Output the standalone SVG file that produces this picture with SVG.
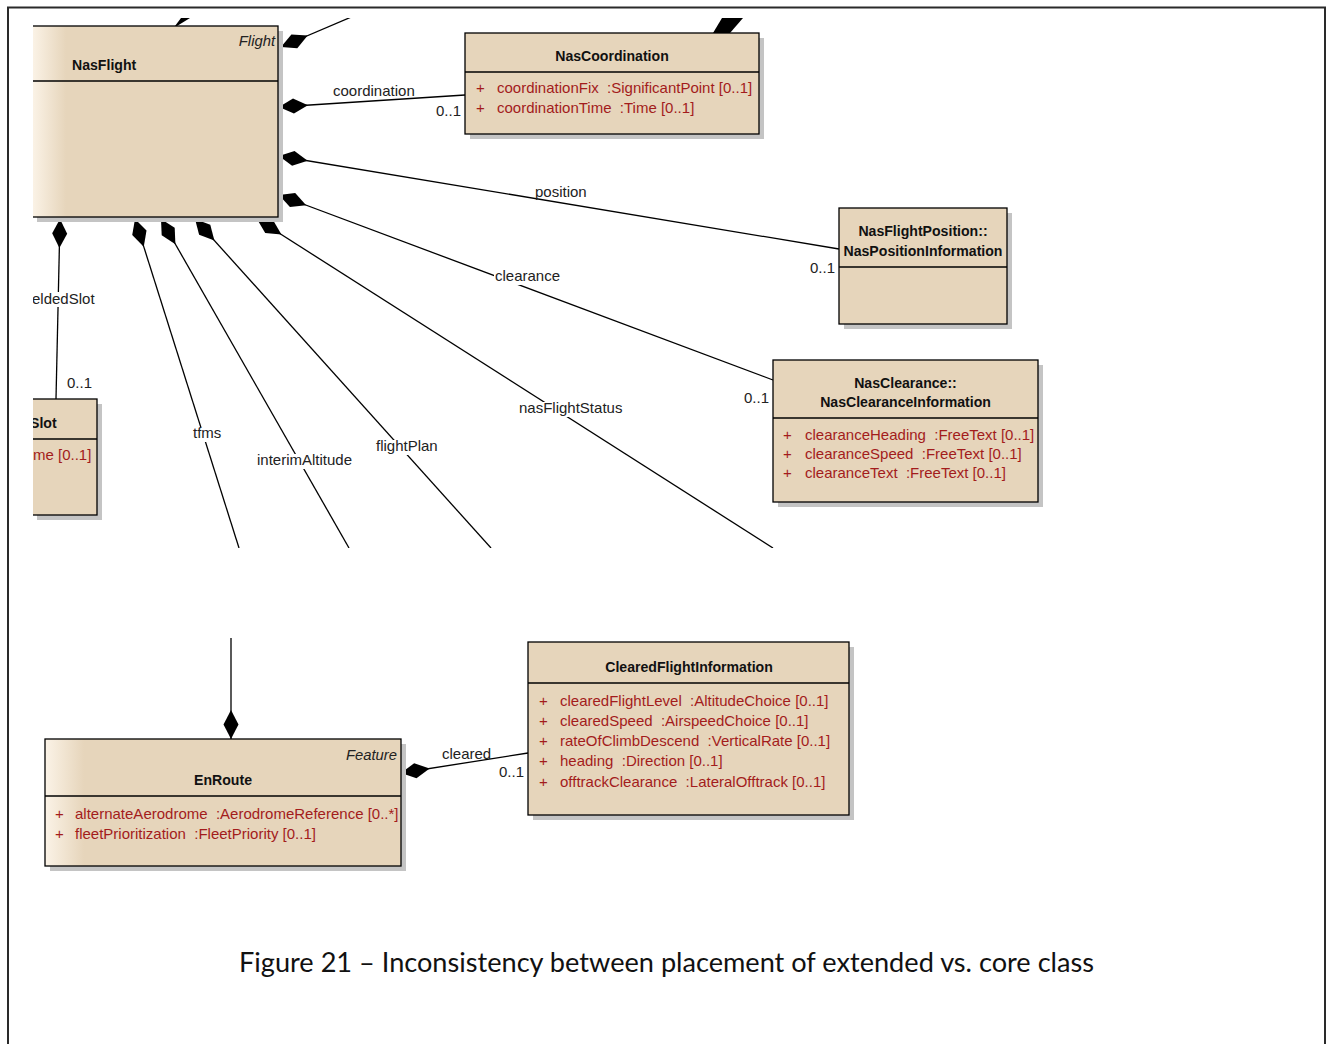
<svg xmlns="http://www.w3.org/2000/svg" width="1332" height="1044" viewBox="0 0 1332 1044">
  <style>
    .box { fill: #E6D5BB; stroke: #000; stroke-width: 1.3; }
    .shadow { fill: #C4C4C4; }
    .div { stroke: #000; stroke-width: 1.3; }
    .title { font: bold 14.1px "Liberation Sans", Arial, sans-serif; fill: #111; }
    .stereo { font: italic 14.8px "Liberation Sans", Arial, sans-serif; fill: #222; }
    .attr { font: 15px "Liberation Sans", Arial, sans-serif; fill: #A31C1C; white-space: pre; }
    .lbl { font: 15px "Liberation Sans", Arial, sans-serif; fill: #222; }
    .conn { stroke: #000; stroke-width: 1.3; fill: none; marker-start: url(#comp); }
    .bg { fill: #fff; }
    .caption { font: 27px Lato, "Liberation Sans", sans-serif; fill: #111; }
  </style>
  <defs>
    <!-- filled diamond for composition ends, drawn along the path from the owning box -->
    <marker id="comp" markerUnits="userSpaceOnUse" orient="auto" refX="0" refY="0" markerWidth="30" markerHeight="16" viewBox="0 -8 30 16" overflow="visible">
      <path d="M0,0 L14.5,-7.5 L29,0 L14.5,7.5 Z" fill="#000"/>
    </marker>
    <linearGradient id="gradFlight" gradientUnits="userSpaceOnUse" x1="32" y1="0" x2="66" y2="0">
      <stop offset="0" stop-color="#FBF3E7"/>
      <stop offset="1" stop-color="#E6D5BB"/>
    </linearGradient>
    <linearGradient id="gradEnRoute" gradientUnits="userSpaceOnUse" x1="45" y1="0" x2="84" y2="0">
      <stop offset="0" stop-color="#FBF3E7"/>
      <stop offset="1" stop-color="#E6D5BB"/>
    </linearGradient>
    <clipPath id="upperView">
      <rect x="33" y="18" width="1292" height="530"/>
    </clipPath>
  </defs>

  <rect width="1332" height="1044" fill="#fff"/>

  <!-- page frame -->
  <path d="M8,1044 V7.5 H1325 V1044" fill="none" stroke="#2a2a2a" stroke-width="2"/>

  <!-- upper part of the class diagram -->
  <g clip-path="url(#upperView)">
    <g id="connectors">
      <polygon points="181,18 190,18 177,26 175,26" fill="#000"/>
      <polygon points="722,18 743,18 730,33 713,33" fill="#000"/>
      <path class="conn" d="M281,47 L356,15"/>
      <path class="conn" d="M279,107 L465,95"/>
      <path class="conn" d="M279,156 L839,249"/>
      <path class="conn" d="M279,195 L773,380"/>
      <path class="conn" d="M257,219 L773,548"/>
      <path class="conn" d="M195,219 L491,548"/>
      <path class="conn" d="M161,219 L349,548"/>
      <path class="conn" d="M135,219 L239,548"/>
      <path class="conn" d="M60,219 L56,399"/>

      <rect class="bg" x="32" y="292" width="66" height="15"/>
      <rect class="bg" x="192" y="427" width="31" height="15"/>
      <rect class="bg" x="256" y="454" width="99" height="15"/>
      <rect class="bg" x="375" y="440" width="66" height="15"/>
      <rect class="bg" x="518" y="402" width="104" height="15"/>
      <rect class="bg" x="494" y="270" width="66" height="15"/>

      <text class="lbl" x="333" y="96">coordination</text>
      <text class="lbl" x="436" y="116">0..1</text>
      <text class="lbl" x="535" y="197">position</text>
      <text class="lbl" x="810" y="273">0..1</text>
      <text class="lbl" x="495" y="281">clearance</text>
      <text class="lbl" x="744" y="403">0..1</text>
      <text class="lbl" x="519" y="413">nasFlightStatus</text>
      <text class="lbl" x="376" y="451">flightPlan</text>
      <text class="lbl" x="257" y="465">interimAltitude</text>
      <text class="lbl" x="193" y="438">tfms</text>
      <text class="lbl" x="32" y="304">eldedSlot</text>
      <text class="lbl" x="67" y="388">0..1</text>
    </g>

    <g id="NasFlight">
      <rect class="shadow" x="37" y="31" width="246" height="191"/>
      <rect class="box" x="32" y="26" width="246" height="191" style="fill:url(#gradFlight)"/>
      <line class="div" x1="32" y1="81" x2="278" y2="81"/>
      <text class="stereo" x="275" y="46" text-anchor="end">Flight</text>
      <text class="title" x="72" y="70">NasFlight</text>
    </g>

    <g id="NasCoordination">
      <rect class="shadow" x="470" y="38" width="294" height="101"/>
      <rect class="box" x="465" y="33" width="294" height="101"/>
      <line class="div" x1="465" y1="72" x2="759" y2="72"/>
      <text class="title" x="612" y="61" text-anchor="middle">NasCoordination</text>
      <text class="attr" y="93"><tspan x="476">+</tspan><tspan x="497">coordinationFix  :SignificantPoint [0..1]</tspan></text>
      <text class="attr" y="113"><tspan x="476">+</tspan><tspan x="497">coordinationTime  :Time [0..1]</tspan></text>
    </g>

    <g id="NasPositionInformation">
      <rect class="shadow" x="844" y="213" width="168" height="116"/>
      <rect class="box" x="839" y="208" width="168" height="116"/>
      <line class="div" x1="839" y1="267" x2="1007" y2="267"/>
      <text class="title" x="923" y="236" text-anchor="middle">NasFlightPosition::</text>
      <text class="title" x="923" y="256" text-anchor="middle">NasPositionInformation</text>
    </g>

    <g id="NasClearanceInformation">
      <rect class="shadow" x="778" y="365" width="265" height="142"/>
      <rect class="box" x="773" y="360" width="265" height="142"/>
      <line class="div" x1="773" y1="418" x2="1038" y2="418"/>
      <text class="title" x="905.5" y="388" text-anchor="middle">NasClearance::</text>
      <text class="title" x="905.5" y="407" text-anchor="middle">NasClearanceInformation</text>
      <text class="attr" y="440"><tspan x="783">+</tspan><tspan x="805">clearanceHeading  :FreeText [0..1]</tspan></text>
      <text class="attr" y="459"><tspan x="783">+</tspan><tspan x="805">clearanceSpeed  :FreeText [0..1]</tspan></text>
      <text class="attr" y="478"><tspan x="783">+</tspan><tspan x="805">clearanceText  :FreeText [0..1]</tspan></text>
    </g>

    <g id="Slot">
      <rect class="shadow" x="37" y="404" width="65" height="116"/>
      <rect class="box" x="20" y="399" width="77" height="116"/>
      <line class="div" x1="20" y1="439" x2="97" y2="439"/>
      <text class="title" x="30" y="428">Slot</text>
      <text class="attr" x="33" y="460">me [0..1]</text>
    </g>
  </g>

  <!-- lower part of the class diagram -->
  <g id="lowerConnectors">
    <path class="conn" d="M231,739 L231,638"/>
    <path class="conn" d="M401,773 L528,753"/>
    <text class="lbl" x="442" y="759">cleared</text>
    <text class="lbl" x="499" y="777">0..1</text>
  </g>

  <g id="EnRoute">
    <rect class="shadow" x="50" y="744" width="356" height="127"/>
    <rect class="box" x="45" y="739" width="356" height="127" style="fill:url(#gradEnRoute)"/>
    <line class="div" x1="45" y1="796" x2="401" y2="796"/>
    <text class="stereo" x="397" y="760" text-anchor="end">Feature</text>
    <text class="title" x="223" y="785" text-anchor="middle">EnRoute</text>
    <text class="attr" y="819"><tspan x="55">+</tspan><tspan x="75">alternateAerodrome  :AerodromeReference [0..*]</tspan></text>
    <text class="attr" y="839"><tspan x="55">+</tspan><tspan x="75">fleetPrioritization  :FleetPriority [0..1]</tspan></text>
  </g>

  <g id="ClearedFlightInformation">
    <rect class="shadow" x="533" y="647" width="321" height="173"/>
    <rect class="box" x="528" y="642" width="321" height="173"/>
    <line class="div" x1="528" y1="683" x2="849" y2="683"/>
    <text class="title" x="689" y="672" text-anchor="middle">ClearedFlightInformation</text>
    <text class="attr" y="706"><tspan x="539">+</tspan><tspan x="560">clearedFlightLevel  :AltitudeChoice [0..1]</tspan></text>
    <text class="attr" y="726"><tspan x="539">+</tspan><tspan x="560">clearedSpeed  :AirspeedChoice [0..1]</tspan></text>
    <text class="attr" y="746"><tspan x="539">+</tspan><tspan x="560">rateOfClimbDescend  :VerticalRate [0..1]</tspan></text>
    <text class="attr" y="766"><tspan x="539">+</tspan><tspan x="560">heading  :Direction [0..1]</tspan></text>
    <text class="attr" y="787"><tspan x="539">+</tspan><tspan x="560">offtrackClearance  :LateralOfftrack [0..1]</tspan></text>
  </g>

  <text class="caption" x="239" y="972" textLength="855" lengthAdjust="spacingAndGlyphs">Figure 21 – Inconsistency between placement of extended vs. core class</text>
</svg>
